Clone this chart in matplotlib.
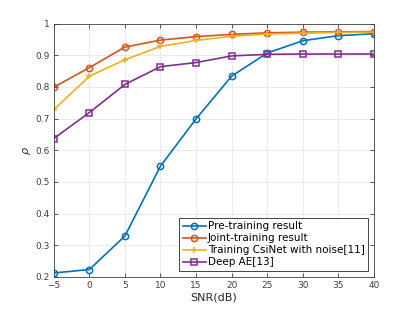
import numpy as np
import matplotlib
matplotlib.use('Agg')
import matplotlib.pyplot as plt

snr = [-5, 0, 5, 10, 15, 20, 25, 30, 35, 40]
pre_training = [0.212, 0.223, 0.329, 0.550, 0.699, 0.834, 0.907, 0.946, 0.962, 0.968]
joint_training = [0.799, 0.861, 0.926, 0.948, 0.959, 0.966, 0.971, 0.973, 0.974, 0.975]
csinet_noise = [0.728, 0.834, 0.886, 0.928, 0.947, 0.960, 0.967, 0.970, 0.972, 0.973]
deep_ae = [0.637, 0.719, 0.808, 0.864, 0.877, 0.898, 0.903, 0.904, 0.904, 0.904]

fig = plt.figure(figsize=(4.14, 3.11), dpi=100)
ax = fig.add_axes([0.130, 0.110, 0.773, 0.814])

ax.plot(snr, pre_training, '-o', color='#0072BD', lw=1.2, ms=4.5, mfc='none',
        mew=1.1, label='Pre-training result')
ax.plot(snr, joint_training, '-o', color='#D95319', lw=1.2, ms=4.5, mfc='none',
        mew=1.1, label='Joint-training result')
ax.plot(snr, csinet_noise, '-+', color='#EDB120', lw=1.2, ms=5,
        mew=1.1, label='Training CsiNet with noise[11]')
ax.plot(snr, deep_ae, '-s', color='#7E2F8E', lw=1.2, ms=4, mfc='none',
        mew=1.1, label='Deep AE[13]')

ax.set_xlim(-5, 40)
ax.set_ylim(0.2, 1.0)
ax.set_xticks(snr)
ax.set_yticks(np.arange(0.2, 1.01, 0.1))
ax.set_yticklabels(['0.2', '0.3', '0.4', '0.5', '0.6', '0.7', '0.8', '0.9', '1'])
ax.grid(True, color='#e6e6e6', lw=0.6)
ax.set_axisbelow(True)
for s in ax.spines.values():
    s.set_color('#404040')
    s.set_linewidth(0.6)
ax.tick_params(axis='both', labelsize=6.5, colors='#404040', direction='in',
               length=3, width=0.6, top=True, right=True, pad=3)

ax.set_xlabel('SNR(dB)', fontsize=8, color='#262626', labelpad=2)
ax.set_ylabel(r'$\rho$', fontsize=8, color='#262626', labelpad=2)

leg = ax.legend(loc='lower right', fontsize=7.5, fancybox=False, framealpha=1,
                edgecolor='#262626', borderpad=0.3, labelspacing=0.2,
                handlelength=2.2, handletextpad=0.2, borderaxespad=0.6)
leg.get_frame().set_linewidth(0.6)

fig.savefig('out.png', dpi=100)
